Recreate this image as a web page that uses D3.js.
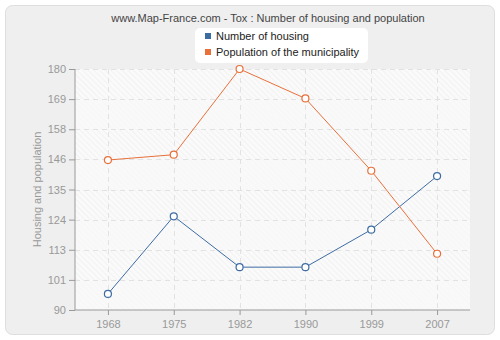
<!DOCTYPE html>
<html>
<head>
<meta charset="utf-8">
<script src="https://cdn.jsdelivr.net/npm/d3@7/dist/d3.min.js"></script>
<style>
  html, body { margin: 0; padding: 0; background: #fff; }
  svg { display: block; font-family: "Liberation Sans", Arial, sans-serif; }
</style>
</head>
<body>
<svg id="chart" width="500" height="340"></svg>
<script>
// Census years and the two series
const years = ["1968", "1975", "1982", "1990", "1999", "2007"];
const housing = [96, 125, 106, 106, 120, 140];
const population = [146, 148, 180, 169, 142, 111];
const yTicks = [90, 101, 113, 124, 135, 146, 158, 169, 180];
const seriesNames = ["Number of housing", "Population of the municipality"];
const seriesColors = ["#3d6ca3", "#e8703a"];

const svg = d3.select("#chart");
const margin = { left: 75, right: 30, top: 69, bottom: 30 };
const plotW = 470 - 75, plotH = 310 - 69;

// Card background
svg.append("rect")
  .attr("x", 5.5).attr("y", 5.5).attr("width", 489).attr("height", 329)
  .attr("rx", 7).attr("fill", "#efefef").attr("stroke", "#dedede");

// Hatch pattern for the plot area
const defs = svg.append("defs");
const pat = defs.append("pattern")
  .attr("id", "hatch").attr("patternUnits", "userSpaceOnUse")
  .attr("width", 4).attr("height", 4)
  .attr("patternTransform", "rotate(-45)");
pat.append("rect").attr("width", 4).attr("height", 4).attr("fill", "#fafafa");
pat.append("line").attr("x1", 0).attr("y1", 0).attr("x2", 0).attr("y2", 4)
  .attr("stroke", "#eeeeee").attr("stroke-width", 1.2);

const x = d3.scalePoint().domain(years).range([0, plotW]).padding(0.5);
const y = d3.scaleLinear().domain([90, 180]).range([plotH, 0]);

const g = svg.append("g").attr("transform", `translate(${margin.left},${margin.top})`);

// Ticks are evenly spaced; their labels are the rounded values
const tickPos = yTicks.map((d, i) => 90 + i * 11.25);

// Plot background: hatched, with alternating lighter bands
g.append("rect").attr("width", plotW).attr("height", plotH).attr("fill", "url(#hatch)");
for (let i = 0; i < tickPos.length - 1; i++) {
  if (i % 2 === 0) {
    const y0 = y(tickPos[i + 1]), y1 = y(tickPos[i]);
    g.append("rect").attr("x", 0).attr("y", y0).attr("width", plotW).attr("height", y1 - y0)
      .attr("fill", "#f8f8f8").attr("opacity", 0.75);
  }
}

// Grid lines
g.selectAll(".hgrid").data(tickPos.slice(1)).join("line")
  .attr("x1", 0).attr("x2", plotW)
  .attr("y1", d => Math.round(y(d)) + 0.5).attr("y2", d => Math.round(y(d)) + 0.5)
  .attr("stroke", "#e2e2e2").attr("stroke-dasharray", "5,4");
g.selectAll(".vgrid").data(years).join("line")
  .attr("x1", d => Math.round(x(d)) + 0.5).attr("x2", d => Math.round(x(d)) + 0.5)
  .attr("y1", 0).attr("y2", plotH)
  .attr("stroke", "#e2e2e2").attr("stroke-dasharray", "5,4");

// Axes
const yAxis = d3.axisLeft(y).tickValues(tickPos).tickFormat((d, i) => yTicks[i]).tickSize(6).tickPadding(3);
const xAxis = d3.axisBottom(x).tickSize(5).tickPadding(5);
const ya = g.append("g").call(yAxis);
const xa = g.append("g").attr("transform", `translate(0,${plotH})`).call(xAxis);
[ya, xa].forEach(a => {
  a.select(".domain").attr("stroke", "#999");
  a.selectAll(".tick line").attr("stroke", "#999");
  a.selectAll(".tick text").attr("fill", "#999").attr("font-size", 11)
    .attr("font-family", "'Liberation Sans', Arial, sans-serif");
});
ya.select(".domain").attr("d", `M0,0V${plotH}`);
xa.select(".domain").attr("d", `M0,0H${plotW}`);

// Y axis title
svg.append("text")
  .attr("transform", `translate(41,${69 + plotH / 2}) rotate(-90)`)
  .attr("text-anchor", "middle").attr("fill", "#999").attr("font-size", 11)
  .text("Housing and population");

// Lines and markers
const line = d3.line().x((d, i) => x(years[i])).y(d => y(d));
[housing, population].forEach((vals, k) => {
  g.append("path").datum(vals).attr("d", line)
    .attr("fill", "none").attr("stroke", seriesColors[k]).attr("stroke-width", 1);
  g.selectAll(".pt" + k).data(vals).join("circle")
    .attr("cx", (d, i) => x(years[i])).attr("cy", d => y(d)).attr("r", 3.5)
    .attr("fill", "#fff").attr("stroke", seriesColors[k]).attr("stroke-width", 1.2);
});

// Title
svg.append("text").attr("x", 268).attr("y", 22).attr("text-anchor", "middle")
  .attr("fill", "#444").attr("font-size", 11)
  .text("www.Map-France.com - Tox : Number of housing and population");

// Legend
const lg = svg.append("g");
lg.append("rect").attr("x", 195).attr("y", 28).attr("width", 173).attr("height", 35)
  .attr("rx", 5).attr("fill", "#fff");
seriesNames.forEach((name, k) => {
  lg.append("rect").attr("x", 205).attr("y", 33 + k * 16).attr("width", 6).attr("height", 6)
    .attr("fill", seriesColors[k]);
  lg.append("text").attr("x", 216).attr("y", 40 + k * 16).attr("fill", "#222")
    .attr("font-size", 11).text(name);
});
</script>
</body>
</html>
